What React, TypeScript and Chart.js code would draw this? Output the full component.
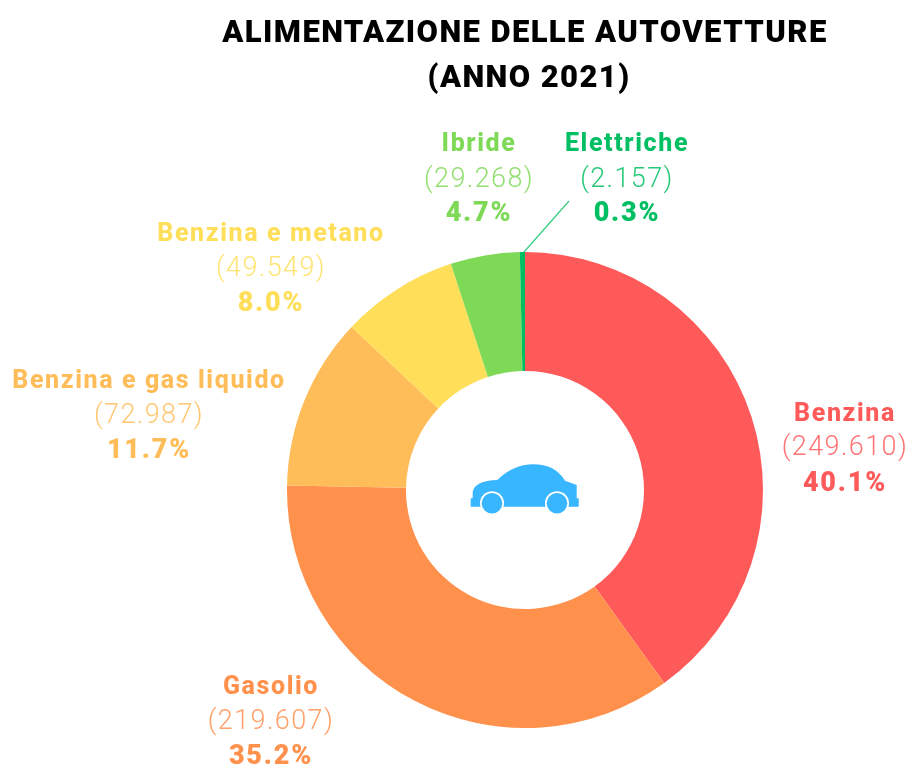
import React, { useEffect, useRef } from "react";
import { Chart, registerables } from "chart.js";
Chart.register(...registerables);

const titleLines = ["ALIMENTAZIONE DELLE AUTOVETTURE", "(ANNO 2021)"];
const titleCenters = [525, 529];
const categories = ["Benzina", "Gasolio", "Benzina e gas liquido", "Benzina e metano", "Ibride", "Elettriche"];
const values = [249610, 219607, 72987, 49549, 29268, 2157];
const valueLabels = ["(249.610)", "(219.607)", "(72.987)", "(49.549)", "(29.268)", "(2.157)"];
const percentLabels = ["40.1%", "35.2%", "11.7%", "8.0%", "4.7%", "0.3%"];
const colors = ["#FF5A5A", "#FF914D", "#FFBD59", "#FFDE59", "#7ED957", "#00BF63"];
const labelCenters: [number, number][] = [[845, 415], [271, 688], [149, 382], [271, 235], [479, 145], [627, 145]];
const valueOffsets = [33, 34, 34, 34, 35, 35];

const FONT = "'Roboto', 'Open Sans', sans-serif";

const overlay = {
  id: "overlay",
  afterDraw(chart: any) {
    const { ctx } = chart;
    const arc = chart.getDatasetMeta(0).data[0];
    const cx = arc.x, cy = arc.y;
    ctx.save();
    ctx.textAlign = "center";
    ctx.textBaseline = "middle";
    ctx.fillStyle = "#000";
    ctx.font = `900 31px ${FONT}`;
    ctx.letterSpacing = "1.4px";
    titleLines.forEach((t, i) => {
      ctx.fillText(t, titleCenters[i], 34 + i * 45);
    });
    categories.forEach((c, i) => {
      const [x, y] = labelCenters[i];
      ctx.fillStyle = colors[i];
      ctx.letterSpacing = "1.6px";
      ctx.font = `800 25px ${FONT}`;
      ctx.fillText(c, x, y);
      ctx.letterSpacing = "1.4px";
      ctx.font = `300 27px ${FONT}`;
      ctx.globalAlpha = 0.85;
      ctx.fillText(valueLabels[i], x, y + valueOffsets[i]);
      ctx.globalAlpha = 1;
      ctx.letterSpacing = "1.8px";
      ctx.font = `900 27px ${FONT}`;
      ctx.fillText(percentLabels[i], x, y + 69);
    });
    // leader line for Elettriche
    ctx.letterSpacing = "0px";
    ctx.strokeStyle = colors[5];
    ctx.globalAlpha = 0.8;
    ctx.lineWidth = 1.2;
    ctx.beginPath();
    ctx.moveTo(569, 201);
    ctx.lineTo(524, 252);
    ctx.stroke();
    ctx.globalAlpha = 1;
    // car icon
    ctx.fillStyle = "#38B6FF";
    ctx.beginPath();
    ctx.moveTo(cx - 54.3, cy + 16.7);
    ctx.lineTo(cx - 54.3, cy + 8.3);
    ctx.lineTo(cx - 52.3, cy + 8.3);
    ctx.lineTo(cx - 52.3, cy + 1.7);
    ctx.quadraticCurveTo(cx - 50, cy - 9.3, cx - 27.7, cy - 10);
    ctx.quadraticCurveTo(cx - 11.7, cy - 25.7, cx + 8.3, cy - 25.7);
    ctx.quadraticCurveTo(cx + 30, cy - 25.7, cx + 40, cy - 9.3);
    ctx.lineTo(cx + 51.7, cy - 5);
    ctx.lineTo(cx + 51.7, cy + 8.3);
    ctx.lineTo(cx + 53.7, cy + 8.3);
    ctx.lineTo(cx + 53.7, cy + 16.7);
    ctx.closePath();
    ctx.fill();
    [-33, 32].forEach((dx) => {
      ctx.beginPath();
      ctx.arc(cx + dx, cy + 13.3, 12, 0, Math.PI * 2);
      ctx.fillStyle = "#fff";
      ctx.fill();
      ctx.beginPath();
      ctx.arc(cx + dx, cy + 13.3, 10.3, 0, Math.PI * 2);
      ctx.fillStyle = "#38B6FF";
      ctx.fill();
    });
    ctx.restore();
  },
};

export default function App() {
  const ref = useRef<HTMLCanvasElement>(null);
  useEffect(() => {
    const chart = new Chart(ref.current!, {
      type: "doughnut",
      data: {
        labels: categories,
        datasets: [{ data: values, backgroundColor: colors, borderWidth: 0 }],
      },
      options: {
        animation: false,
        responsive: false,
        cutout: "50%",
        layout: { padding: { top: 252, left: 287, right: 907 - 763, bottom: 764 - 728 } },
        plugins: { legend: { display: false }, tooltip: { enabled: false } },
      },
      plugins: [overlay],
    });
    return () => chart.destroy();
  }, []);
  return (
    <canvas
      ref={ref}
      width={907}
      height={764}
      style={{ position: "fixed", left: 0, top: 0, display: "block", background: "#fff" }}
    />
  );
}
